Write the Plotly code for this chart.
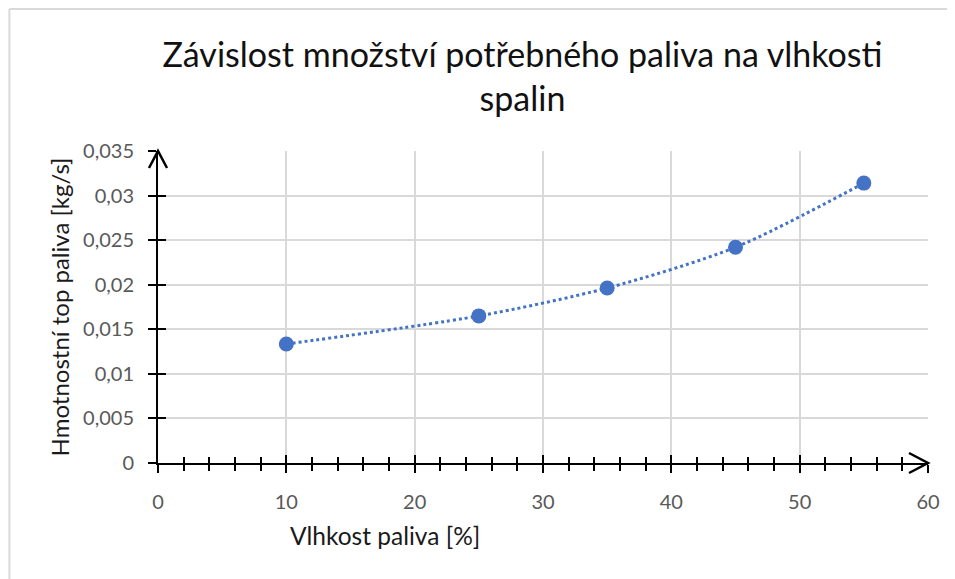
import plotly.graph_objects as go

# Data
moisture = [10, 25, 35, 45, 55]                       # Vlhkost paliva [%]
fuel_flow = [0.01335, 0.0165, 0.01963, 0.0242, 0.0314]  # Hmotnostní tok paliva [kg/s]

x_ticks = [0, 10, 20, 30, 40, 50, 60]
y_ticks = [0, 0.005, 0.01, 0.015, 0.02, 0.025, 0.03, 0.035]

FONT = "Lato"
BLUE = "#4472C4"
GRID = "#d9d9d9"

fig = go.Figure()

# trend line (dotted) + points
fig.add_trace(go.Scatter(
    x=moisture, y=fuel_flow, mode="lines",
    line=dict(color=BLUE, width=3, dash="dot", shape="spline", smoothing=0.8),
    hoverinfo="skip", showlegend=False,
))
fig.add_trace(go.Scatter(
    x=moisture, y=fuel_flow, mode="markers",
    marker=dict(color=BLUE, size=15),
    showlegend=False,
))
# invisible trace so the overlay axes (inner half of the crossing ticks) are drawn
fig.add_trace(go.Scatter(x=[0], y=[0], xaxis="x2", yaxis="y2", mode="markers",
                         marker=dict(opacity=0), hoverinfo="skip", showlegend=False))

axis_common = dict(showline=True, linecolor="black", linewidth=2, zeroline=False,
                   tickcolor="black", tickwidth=2)

# page has an 8px body margin; figure is shrunk by 8px so it fits the window
fig.update_layout(
    width=947, height=571,
    margin=dict(l=150, r=27, t=143, b=116),
    paper_bgcolor="white", plot_bgcolor="white",
    separators=", ",
    font=dict(family=FONT, color="#595959"),
    title=dict(
        text="Závislost množství potřebného paliva na vlhkosti<br>spalin",
        x=0.5433, xanchor="center", xref="container",
        y=0.8967, yanchor="top", yref="container",
        font=dict(family=FONT, size=34, color="#111111"),
    ),
    xaxis=dict(
        range=[0, 60], tickvals=x_ticks, ticks="outside", ticklen=8,
        minor=dict(dtick=2, ticks="outside", ticklen=6, tickcolor="black", tickwidth=2, showgrid=False),
        showgrid=True, gridcolor=GRID, gridwidth=2,
        tickfont=dict(size=20, color="#595959"), ticklabelstandoff=12,
        **axis_common,
    ),
    yaxis=dict(
        range=[0, 0.035], tickvals=y_ticks, ticks="outside", ticklen=8,
        showgrid=True, gridcolor=GRID, gridwidth=2,
        tickfont=dict(size=20, color="#595959"), ticklabelstandoff=10,
        title=dict(text="Hmotnostní top paliva [kg/s]", standoff=7,
                   font=dict(size=24, color="#1a1a1a")),
        **axis_common,
    ),
    xaxis2=dict(
        range=[0, 60], overlaying="x", anchor="y2", tickvals=x_ticks, ticks="inside", ticklen=8,
        minor=dict(dtick=2, ticks="inside", ticklen=6, tickcolor="black", tickwidth=2),
        showticklabels=False, showgrid=False, zeroline=False, showline=False,
        tickcolor="black", tickwidth=2,
    ),
    yaxis2=dict(
        range=[0, 0.035], overlaying="y", anchor="x2", tickvals=y_ticks, ticks="inside", ticklen=8,
        showticklabels=False, showgrid=False, zeroline=False, showline=False,
        tickcolor="black", tickwidth=2,
    ),
)

# x axis title (sits left of centre in the reference)
fig.add_annotation(text="Vlhkost paliva [%]", xref="paper", yref="paper",
                   x=0.295, y=-0.231, xanchor="center", yanchor="middle",
                   showarrow=False, font=dict(family=FONT, size=24.5, color="#1a1a1a"))

# open arrow heads at the ends of both axes
fig.add_shape(type="path", xref="paper", yref="paper", xsizemode="pixel", ysizemode="pixel",
              xanchor=0, yanchor=1, path="M -9,-17 L 0,0 L 9,-17",
              line=dict(color="black", width=2.5))
fig.add_shape(type="path", xref="paper", yref="paper", xsizemode="pixel", ysizemode="pixel",
              xanchor=1, yanchor=0, path="M -19,10 L 0,0 L -19,-10",
              line=dict(color="black", width=2.5))

# chart frame: only the left and top edges are inside the crop
fig.add_shape(type="line", xref="paper", yref="paper", x0=-0.193, y0=-2, x1=-0.193, y1=1.455,
              line=dict(color=GRID, width=2), layer="below")
fig.add_shape(type="line", xref="paper", yref="paper", x0=-0.193, y0=1.455, x1=3, y1=1.455,
              line=dict(color=GRID, width=2), layer="below")

fig.write_html("out.html")
